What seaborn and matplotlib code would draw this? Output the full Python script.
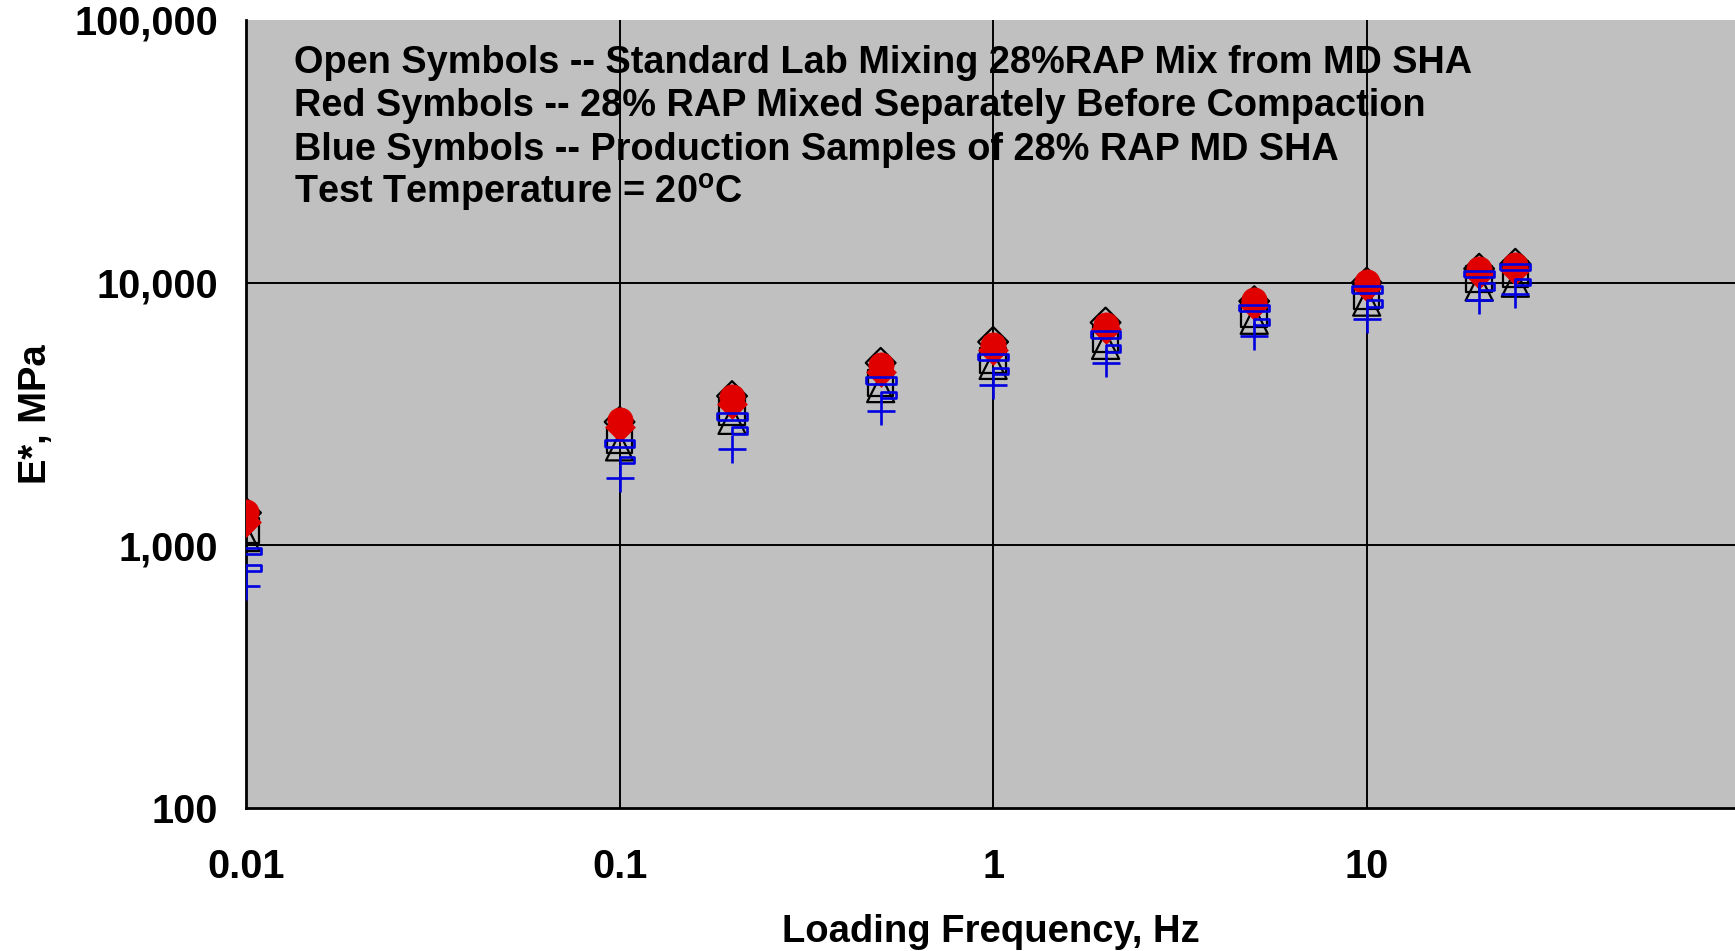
import matplotlib
matplotlib.use("Agg")
import matplotlib.pyplot as plt
import seaborn as sns
import numpy as np
import pandas as pd
from matplotlib.ticker import FixedLocator, FuncFormatter, NullLocator

# ---- data ----
freq = [0.01, 0.1, 0.2, 0.5, 1, 2, 5, 10, 20, 25]

open_triangle = [1070, 2370, 2990, 3950, 4840, 5770, 7190, 8430, 9620, 9950]
open_square   = [1140, 2510, 3220, 4150, 5050, 6100, 7600, 8900, 10300, 10800]
open_diamond  = [1330, 2950, 3700, 4950, 5950, 7050, 8500, 10000, 11300, 11800]
red_circle    = [1340, 2990, 3670, 4840, 5770, 6870, 8570, 10040, 11300, 11650]
red_diamond   = [1230, 2820, 3460, 4570, 5520, 6680, 8200, 9620, 10800, 11140]
blue_rect     = [950, 2440, 3100, 4250, 5210, 6350, 8000, 9400, 10800, 11460]
blue_small    = [820, 2110, 2740, 3730, 4610, 5610, 7080, 8320, 9650, 10040]
blue_plus     = [700, 1800, 2330, 3240, 4060, 4940, 6250, 7300, 8570, 9080]

y_ticks = [100, 1000, 10000, 100000]
y_grid = [1000, 10000]
x_ticks = [0.01, 0.1, 1, 10]
x_tick_labels = ["0.01", "0.1", "1", "10"]

note_lines = [
    "Open Symbols -- Standard Lab Mixing 28%RAP Mix from MD SHA",
    "Red Symbols -- 28% RAP Mixed Separately Before Compaction",
    "Blue Symbols -- Production Samples of 28% RAP MD SHA",
    "Test Temperature = 20$^{\\mathbf{o}}$C",
]

# ---- style ----
sns.set_style("white")
plt.rcParams["font.family"] = ["Liberation Sans", "DejaVu Sans"]
plt.rcParams["font.weight"] = "bold"
plt.rcParams["mathtext.fontset"] = "custom"
plt.rcParams["mathtext.rm"] = "Liberation Sans:bold"
plt.rcParams["mathtext.bf"] = "Liberation Sans:bold"
for key in ["text.color", "axes.labelcolor", "xtick.color", "ytick.color"]:
    plt.rcParams[key] = "black"

fig = plt.figure(figsize=(17.35, 9.51), dpi=100)
ax = fig.add_axes([0.1418, 0.1504, 0.8582, 0.8286])
ax.set_facecolor("#C0C0C0")

wide_rect = [(-1, -0.22), (1, -0.22), (1, 0.22), (-1, 0.22), (-1, -0.22)]
half_rect = [(0, -0.22), (1, -0.22), (1, 0.22), (0, 0.22), (0, -0.22)]

def draw(vals, marker, s, face, edge, lw, z):
    df = pd.DataFrame({"f": freq, "E": vals})
    sns.scatterplot(data=df, x="f", y="E", marker=marker, s=s,
                    facecolor=face, edgecolor=edge, linewidth=lw,
                    ax=ax, zorder=z, legend=False)

# open (black) symbols
draw(open_square, "s", 340, "none", "black", 1.6, 3)
draw(open_triangle, "^", 380, "none", "black", 1.6, 3)
draw(open_diamond, "D", 230, "none", "black", 1.6, 3)
# red symbols
draw(red_circle, "o", 330, "#E00000", "#E00000", 0.5, 4)
draw(red_diamond, "D", 230, "#E00000", "#E00000", 0.5, 4)
# blue symbols
draw(blue_rect, wide_rect, 460, "none", "#0000E0", 1.9, 5)
draw(blue_small, half_rect, 460, "none", "#0000E0", 1.9, 5)
draw(blue_plus, "+", 430, "#0000E0", "#0000E0", 1.9, 5)

ax.set_xscale("log")
ax.set_yscale("log")
ax.set_xlim(0.01, 10 ** 1.986)
ax.set_ylim(100, 100000)

ax.xaxis.set_major_locator(FixedLocator(x_ticks))
ax.xaxis.set_major_formatter(FuncFormatter(lambda v, p: x_tick_labels[x_ticks.index(v)] if v in x_ticks else ""))
ax.xaxis.set_minor_locator(NullLocator())
ax.yaxis.set_major_locator(FixedLocator(y_ticks))
ax.yaxis.set_major_formatter(FuncFormatter(lambda v, p: f"{int(round(v)):,}"))
ax.yaxis.set_minor_locator(NullLocator())

ax.grid(False)
ax.xaxis.grid(True, which="major", color="black", linewidth=1.4)
for gy in y_grid:
    ax.axhline(gy, color="black", linewidth=1.4, zorder=0.5)
ax.set_axisbelow(True)
for side in ["top", "right"]:
    ax.spines[side].set_visible(False)
for side in ["left", "bottom"]:
    ax.spines[side].set_color("black")
    ax.spines[side].set_linewidth(2.0)

ax.tick_params(axis="both", which="major", direction="out", length=7, width=1.5,
               color="black", labelsize=28.5)
ax.tick_params(axis="x", pad=22)
ax.tick_params(axis="y", pad=13)
for lab in ax.get_xticklabels() + ax.get_yticklabels():
    lab.set_fontweight("bold")

ax.set_xlabel("Loading Frequency, Hz", fontsize=27.5, fontweight="bold", labelpad=20)
ax.set_ylabel("E*, MPa", fontsize=27.5, fontweight="bold", labelpad=15)

y0 = 0.945
for i, line in enumerate(note_lines):
    ax.text(0.0322, y0 - i * 0.0548, line, transform=ax.transAxes, fontsize=27.3,
            fontweight="bold", ha="left", va="center", color="black", zorder=6)

fig.savefig("out.png", dpi=100)
